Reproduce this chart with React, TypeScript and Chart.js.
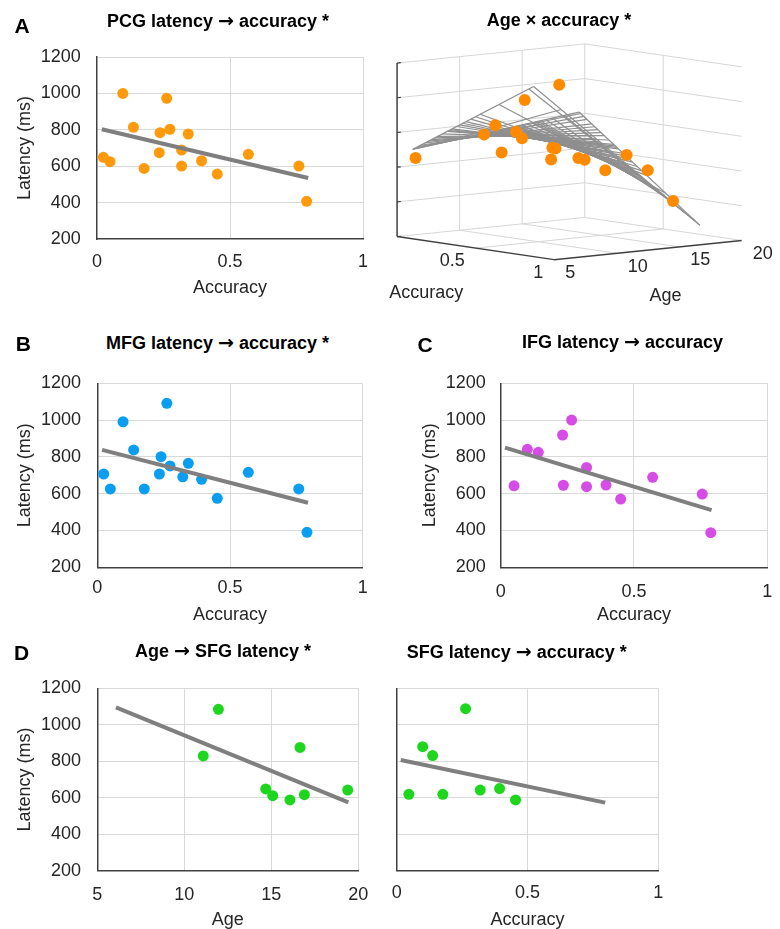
import React, { useEffect, useRef } from 'react';
import { Chart, registerables } from 'chart.js';

Chart.register(...registerables);

const FONT_FAMILY = '"Liberation Sans", Arial, Helvetica, sans-serif';
const TICK_COLOR = '#262626';
const GRID_COLOR = '#d9d9d9';
const AXIS_COLOR = '#404040';
const TREND_COLOR = '#7f7f7f';
const MESH_COLOR = '#8f8f8f';
const WALL_COLOR = '#d6d6d6';

const ORANGE = '#FF9A0D';
const ORANGE_3D = '#FF8A00';
const BLUE = '#0A9EF0';
const MAGENTA = '#D64DE6';
const GREEN = '#1FD61F';

// ---------------- Panel A (left): PCG latency -> accuracy ----------------
const pcgAccuracy = [0.024, 0.049, 0.097, 0.137, 0.177, 0.234, 0.237, 0.262, 0.274, 0.318, 0.318, 0.343, 0.393, 0.452, 0.569, 0.759, 0.788];
const pcgLatency = [649, 625, 1000, 814, 588, 674, 784, 973, 803, 689, 601, 777, 630, 557, 665, 601, 407];
const pcgTrendAccuracy = [0.018, 0.794];
const pcgTrendLatency = [803, 535];

// ---------------- Panel A (right): Age x accuracy (3D) ----------------
const ageAccAccuracy = [0.03, 0.1, 0.14, 0.18, 0.24, 0.27, 0.1, 0.32, 0.32, 0.34, 0.26, 0.39, 0.45, 0.45, 0.57, 0.76, 0.79];
const ageAccAge = [6.1, 10.7, 11.1, 11.1, 11.5, 11.6, 13.95, 13.3, 13.4, 13.4, 14.7, 14.6, 14.35, 16.0, 16.2, 15.5, 17.15];
const ageAccLatency = [649, 760, 815, 663, 788, 754, 935, 625, 692, 691, 1038, 634, 634, 561, 664, 606, 420];
const surfaceAccuracyGrid = [0.02, 0.03, 0.05, 0.07, 0.1, 0.12, 0.14, 0.16, 0.18, 0.21, 0.24, 0.25, 0.26, 0.27, 0.3, 0.32, 0.34, 0.36, 0.39, 0.42, 0.45, 0.57, 0.76, 0.79];
const surfaceAgeGrid = [6.0, 8.2, 10.7, 11.0, 11.1, 11.3, 11.5, 11.6, 12.0, 12.3, 12.8, 13.3, 13.4, 13.6, 13.9, 14.2, 14.35, 14.6, 14.7, 15.1, 15.5, 15.8, 16.0, 16.2, 16.6, 17.15, 18.1, 19.3];
const surfaceIntercept = 621.3;
const surfaceAccuracyCoef = 1197.3;
const surfaceAgeCoef = 10.78;
const surfaceInteractionCoef = -99.1;
const cubeAccuracyTicks = [0.5, 1];
const cubeAgeTicks = [5, 10, 15, 20];
const cubeLatencyTicks = [200, 400, 600, 800, 1000, 1200];

// ---------------- Panel B: MFG latency -> accuracy ----------------
const mfgAccuracy = [0.024, 0.049, 0.097, 0.137, 0.177, 0.234, 0.24, 0.262, 0.274, 0.322, 0.343, 0.393, 0.452, 0.569, 0.759, 0.79];
const mfgLatency = [707, 626, 991, 838, 626, 707, 801, 1091, 751, 692, 765, 678, 575, 716, 626, 390];
const mfgTrendAccuracy = [0.018, 0.794];
const mfgTrendLatency = [838, 551];

// ---------------- Panel C: IFG latency -> accuracy ----------------
const ifgAccuracy = [0.05, 0.1, 0.141, 0.232, 0.266, 0.235, 0.322, 0.322, 0.395, 0.45, 0.57, 0.756, 0.788];
const ifgLatency = [643, 841, 825, 919, 1000, 646, 743, 638, 647, 571, 689, 598, 388];
const ifgTrendAccuracy = [0.016, 0.791];
const ifgTrendLatency = [850, 511];

// ---------------- Panel D (left): Age -> SFG latency ----------------
const sfgAge = [11.09, 11.96, 14.68, 15.08, 16.07, 16.65, 16.9, 19.39];
const sfgLatencyByAge = [829, 1085, 648, 611, 588, 876, 617, 642];
const sfgAgeTrendAge = [6.07, 19.43];
const sfgAgeTrendLatency = [1095, 575];

// ---------------- Panel D (right): SFG latency -> accuracy ----------------
const sfgAccuracy = [0.046, 0.099, 0.137, 0.176, 0.263, 0.319, 0.393, 0.454];
const sfgLatency = [619, 880, 831, 619, 1088, 642, 650, 588];
const sfgTrendAccuracy = [0.015, 0.797];
const sfgTrendLatency = [807, 573];

const LABEL_SIZE = 18;
const LINE_H = LABEL_SIZE * 1.2;

type Panel = {
  key: string;
  canvas: [number, number, number, number];
  area: [number, number, number, number];
  xMin: number;
  xMax: number;
  xStep: number;
  xTitle: string;
  yTitle: string | null;
  yTitleX: number;
  xTitleY: number;
  xTickY: number;
  yTickPad: number;
  xs: number[];
  ys: number[];
  color: string;
  trendX: number[];
  trendY: number[];
};

const panels: Panel[] = [
  {
    key: 'pcg', canvas: [0, 28, 385, 282], area: [97, 363, 57, 239],
    xMin: 0, xMax: 1, xStep: 0.5, xTitle: 'Accuracy', yTitle: 'Latency (ms)', yTitleX: 25,
    xTitleY: 288.3, xTickY: 261.7, yTickPad: 16.3,
    xs: pcgAccuracy, ys: pcgLatency, color: ORANGE, trendX: pcgTrendAccuracy, trendY: pcgTrendLatency,
  },
  {
    key: 'mfg', canvas: [0, 354, 385, 278], area: [97.3, 362.7, 383.3, 567.3],
    xMin: 0, xMax: 1, xStep: 0.5, xTitle: 'Accuracy', yTitle: 'Latency (ms)', yTitleX: 25,
    xTitleY: 615, xTickY: 588.3, yTickPad: 16.3,
    xs: mfgAccuracy, ys: mfgLatency, color: BLUE, trendX: mfgTrendAccuracy, trendY: mfgTrendLatency,
  },
  {
    key: 'ifg', canvas: [390, 354, 400, 278], area: [500.7, 767.3, 383.3, 567.3],
    xMin: 0, xMax: 1, xStep: 0.5, xTitle: 'Accuracy', yTitle: 'Latency (ms)', yTitleX: 430,
    xTitleY: 615, xTickY: 591.7, yTickPad: 15,
    xs: ifgAccuracy, ys: ifgLatency, color: MAGENTA, trendX: ifgTrendAccuracy, trendY: ifgTrendLatency,
  },
  {
    key: 'sfgAge', canvas: [0, 659, 385, 273], area: [97.3, 358.3, 688.3, 870.7],
    xMin: 5, xMax: 20, xStep: 5, xTitle: 'Age', yTitle: 'Latency (ms)', yTitleX: 25,
    xTitleY: 920, xTickY: 895, yTickPad: 16.3,
    xs: sfgAge, ys: sfgLatencyByAge, color: GREEN, trendX: sfgAgeTrendAge, trendY: sfgAgeTrendLatency,
  },
  {
    key: 'sfgAcc', canvas: [380, 659, 400, 273], area: [392.7, 658.3, 688.3, 870.7],
    xMin: 0, xMax: 1, xStep: 0.5, xTitle: 'Accuracy', yTitle: null, yTitleX: 0,
    xTitleY: 920, xTickY: 893.3, yTickPad: 16,
    xs: sfgAccuracy, ys: sfgLatency, color: GREEN, trendX: sfgTrendAccuracy, trendY: sfgTrendLatency,
  },
];

const ARROW = '\u2192';

const panelTitles = [
  { text: `PCG latency ${ARROW} accuracy *`, x: 218, y: 20 },
  { text: 'Age \u00d7 accuracy *', x: 559, y: 20 },
  { text: `MFG latency ${ARROW} accuracy *`, x: 217.5, y: 341.7 },
  { text: `IFG latency ${ARROW} accuracy`, x: 622.5, y: 340.7 },
  { text: `Age ${ARROW} SFG latency *`, x: 223, y: 650 },
  { text: `SFG latency ${ARROW} accuracy *`, x: 516.7, y: 650.7 },
];

const panelLetters = [
  { text: 'A', x: 22, y: 25 },
  { text: 'B', x: 23.3, y: 342.7 },
  { text: 'C', x: 425, y: 344 },
  { text: 'D', x: 21.7, y: 651.7 },
];

function buildScatterConfig(p: Panel): any {
  const [cx, cy, cw, ch] = p.canvas;
  const [L, R, T, B] = p.area;
  const yWidth = L - cx;
  const xHeight = p.xTitleY + LINE_H / 2 - B;
  const padding = { left: 0, top: T - cy, right: cx + cw - R, bottom: cy + ch - B - xHeight };
  const font = { family: FONT_FAMILY, size: LABEL_SIZE };
  const points = p.xs.map((x, i) => ({ x, y: p.ys[i] }));
  const trend = p.trendX.map((x, i) => ({ x, y: p.trendY[i] }));
  return {
    type: 'scatter',
    data: {
      datasets: [
        { data: trend, showLine: true, borderColor: TREND_COLOR, borderWidth: 4, pointRadius: 0, borderCapStyle: 'butt' },
        { data: points, pointRadius: 5.5, pointBackgroundColor: p.color, pointBorderWidth: 0, backgroundColor: p.color, borderColor: p.color },
      ],
    },
    options: {
      animation: false,
      responsive: false,
      events: [],
      layout: { padding },
      plugins: { legend: { display: false }, tooltip: { enabled: false }, title: { display: false } },
      scales: {
        x: {
          type: 'linear', min: p.xMin, max: p.xMax,
          ticks: { stepSize: p.xStep, padding: p.xTickY - B - LINE_H / 2, font, color: TICK_COLOR, maxRotation: 0, autoSkip: false, callback: (v: any) => String(v) },
          grid: { color: (c: any) => (c.tick && c.tick.value === p.xMin ? 'rgba(0,0,0,0)' : GRID_COLOR), drawTicks: false, lineWidth: 1 },
          border: { color: AXIS_COLOR, width: 1.5 },
          title: { display: true, text: p.xTitle, font, color: TICK_COLOR, padding: 0 },
          afterFit: (s: any) => { s.height = xHeight; },
        },
        y: {
          type: 'linear', min: 200, max: 1200,
          ticks: { display: p.yTitle !== null, stepSize: 200, padding: p.yTickPad, font, color: TICK_COLOR, autoSkip: false, callback: (v: any) => String(v) },
          grid: { color: (c: any) => (c.tick && c.tick.value === 200 ? 'rgba(0,0,0,0)' : GRID_COLOR), drawTicks: false, lineWidth: 1 },
          border: { color: AXIS_COLOR, width: 1.5 },
          title: { display: p.yTitle !== null, text: p.yTitle || '', font, color: TICK_COLOR, padding: { top: p.yTitleX - cx - LINE_H / 2, bottom: 0 } },
          afterFit: (s: any) => { s.width = yWidth; },
        },
      },
    },
  };
}

// ---------- 3D projection (page pixel space of the cube) ----------
const SURFACE_CANVAS: [number, number, number, number] = [370, 28, 410, 292];
const CUBE_ORIGIN = { x: 391.7, y: 239.3 }; // accuracy 0, age 5, latency 200
const CUBE_ACC = { x: 161.7, y: 24 }; // per unit accuracy
const CUBE_AGE = { x: 193.3 / 15, y: -20 / 15 }; // per year
const CUBE_LAT = { x: 0, y: -0.181 }; // per ms

function project(a: number, g: number, z: number) {
  return {
    x: CUBE_ORIGIN.x + a * CUBE_ACC.x + (g - 5) * CUBE_AGE.x + (z - 200) * CUBE_LAT.x,
    y: CUBE_ORIGIN.y + a * CUBE_ACC.y + (g - 5) * CUBE_AGE.y + (z - 200) * CUBE_LAT.y,
  };
}

function surface(a: number, g: number) {
  return surfaceIntercept + surfaceAccuracyCoef * a + surfaceAgeCoef * g + surfaceInteractionCoef * a * g;
}

function build3DConfig(): any {
  const [cx, cy, cw, ch] = SURFACE_CANVAS;
  const seg = (p1: number[], p2: number[], color: string, width: number) => ({
    data: [project(p1[0], p1[1], p1[2]), project(p2[0], p2[1], p2[2])],
    showLine: true, borderColor: color, borderWidth: width, pointRadius: 0, borderCapStyle: 'butt',
  });
  const aMin = 0, aMax = 1;
  const gMin = cubeAgeTicks[0], gMax = cubeAgeTicks[cubeAgeTicks.length - 1];
  const zMin = cubeLatencyTicks[0], zMax = cubeLatencyTicks[cubeLatencyTicks.length - 1];

  const grid: any[] = [];
  cubeLatencyTicks.forEach((z) => {
    grid.push(seg([aMin, gMin, z], [aMin, gMax, z], WALL_COLOR, 1));
    grid.push(seg([aMin, gMax, z], [aMax, gMax, z], WALL_COLOR, 1));
  });
  cubeAgeTicks.slice(1).forEach((g) => {
    grid.push(seg([aMin, g, zMin], [aMin, g, zMax], WALL_COLOR, 1));
    if (g < gMax) grid.push(seg([aMin, g, zMin], [aMax, g, zMin], WALL_COLOR, 1));
  });
  cubeAccuracyTicks.forEach((a) => {
    if (a < aMax) {
      grid.push(seg([a, gMax, zMin], [a, gMax, zMax], WALL_COLOR, 1));
      grid.push(seg([a, gMin, zMin], [a, gMax, zMin], WALL_COLOR, 1));
    }
  });

  const axes: any[] = [
    seg([aMin, gMin, zMin], [aMin, gMin, zMax], AXIS_COLOR, 1.5),
    seg([aMin, gMin, zMin], [aMax, gMin, zMin], AXIS_COLOR, 1.5),
    seg([aMax, gMin, zMin], [aMax, gMax, zMin], AXIS_COLOR, 1.5),
  ];
  cubeLatencyTicks.forEach((z) => {
    axes.push(seg([aMin, gMin, z], [aMin, gMin + 0.3, z], AXIS_COLOR, 1.2));
  });

  const sa0 = surfaceAccuracyGrid[0], sa1 = surfaceAccuracyGrid[surfaceAccuracyGrid.length - 1];
  const sg0 = surfaceAgeGrid[0], sg1 = surfaceAgeGrid[surfaceAgeGrid.length - 1];
  const mesh: any[] = [];
  surfaceAgeGrid.forEach((g) => {
    mesh.push(seg([sa0, g, surface(sa0, g)], [sa1, g, surface(sa1, g)], MESH_COLOR, 1.2));
  });
  surfaceAccuracyGrid.forEach((a) => {
    mesh.push(seg([a, sg0, surface(a, sg0)], [a, sg1, surface(a, sg1)], MESH_COLOR, 1.2));
  });

  const pts = ageAccAccuracy.map((a, i) => project(a, ageAccAge[i], ageAccLatency[i]));
  const pointsDs = { data: pts, pointRadius: 6, pointBackgroundColor: ORANGE_3D, pointBorderWidth: 0, backgroundColor: ORANGE_3D, borderColor: ORANGE_3D };

  const labelPlugin = {
    id: 'cubeLabels',
    afterDatasetsDraw(chart: any) {
      const ctx = chart.ctx;
      const xs = chart.scales.x;
      const ys = chart.scales.y;
      const px = (p: { x: number; y: number }, dx: number, dy: number) => ({
        x: xs.getPixelForValue(p.x + dx),
        y: ys.getPixelForValue(p.y + dy),
      });
      ctx.save();
      ctx.fillStyle = TICK_COLOR;
      ctx.font = `${LABEL_SIZE}px ${FONT_FAMILY}`;
      ctx.textBaseline = 'middle';
      ctx.textAlign = 'right';
      cubeAccuracyTicks.forEach((a) => {
        const q = px(project(a, gMin, zMin), -11, 13.5);
        ctx.fillText(String(a), q.x, q.y);
      });
      ctx.textAlign = 'left';
      cubeAgeTicks.forEach((g) => {
        const q = px(project(aMax, g, zMin), 11.5, 14);
        ctx.fillText(String(g), q.x, q.y);
      });
      ctx.textAlign = 'center';
      const qa = px(project(0.5, gMin, zMin), -50.8, 47);
      ctx.fillText('Accuracy', qa.x, qa.y);
      const qg = px(project(aMax, (gMin + gMax) / 2, zMin), 18.3, 48.4);
      ctx.fillText('Age', qg.x, qg.y);
      ctx.restore();
    },
  };

  return {
    type: 'scatter',
    data: { datasets: [pointsDs, ...mesh, ...axes, ...grid] },
    options: {
      animation: false,
      responsive: false,
      events: [],
      layout: { padding: 0 },
      plugins: { legend: { display: false }, tooltip: { enabled: false }, title: { display: false } },
      scales: {
        x: { type: 'linear', display: false, min: cx, max: cx + cw },
        y: { type: 'linear', display: false, min: cy, max: cy + ch, reverse: true },
      },
    },
    plugins: [labelPlugin],
  };
}

function ChartCanvas({ rect, build }: { rect: [number, number, number, number]; build: () => any }) {
  const ref = useRef<HTMLCanvasElement>(null);
  useEffect(() => {
    if (!ref.current) return;
    const chart = new Chart(ref.current, build());
    return () => chart.destroy();
  }, []);
  const [x, y, w, h] = rect;
  return (
    <canvas
      ref={ref}
      width={w}
      height={h}
      style={{ position: 'absolute', left: x, top: y, width: w, height: h }}
    />
  );
}

function TitleText({ text }: { text: string }) {
  const parts = text.split(ARROW);
  if (parts.length === 1) return <>{text}</>;
  return (
    <>
      {parts[0]}
      <span style={{ fontFamily: '"DejaVu Sans", sans-serif', fontSize: 19, fontWeight: 'bold' }}>{ARROW}</span>
      {parts[1]}
    </>
  );
}

export default function App() {
  return (
    <div
      style={{
        position: 'absolute', left: 0, top: 0, width: 780, height: 929,
        overflow: 'hidden', background: '#ffffff', fontFamily: FONT_FAMILY,
      }}
    >
      {panels.map((p) => (
        <ChartCanvas key={p.key} rect={p.canvas} build={() => buildScatterConfig(p)} />
      ))}
      <ChartCanvas rect={SURFACE_CANVAS} build={build3DConfig} />
      {panelTitles.map((t) => (
        <div
          key={t.text}
          style={{
            position: 'absolute', left: t.x, top: t.y, transform: 'translate(-50%, -50%)',
            font: `bold 18px ${FONT_FAMILY}`, lineHeight: 1, whiteSpace: 'nowrap', color: '#000',
          }}
        >
          <TitleText text={t.text} />
        </div>
      ))}
      {panelLetters.map((t) => (
        <div
          key={t.text}
          style={{
            position: 'absolute', left: t.x, top: t.y, transform: 'translate(-50%, -50%)',
            font: `bold 21px ${FONT_FAMILY}`, lineHeight: 1, whiteSpace: 'nowrap', color: '#000',
          }}
        >
          {t.text}
        </div>
      ))}
    </div>
  );
}
